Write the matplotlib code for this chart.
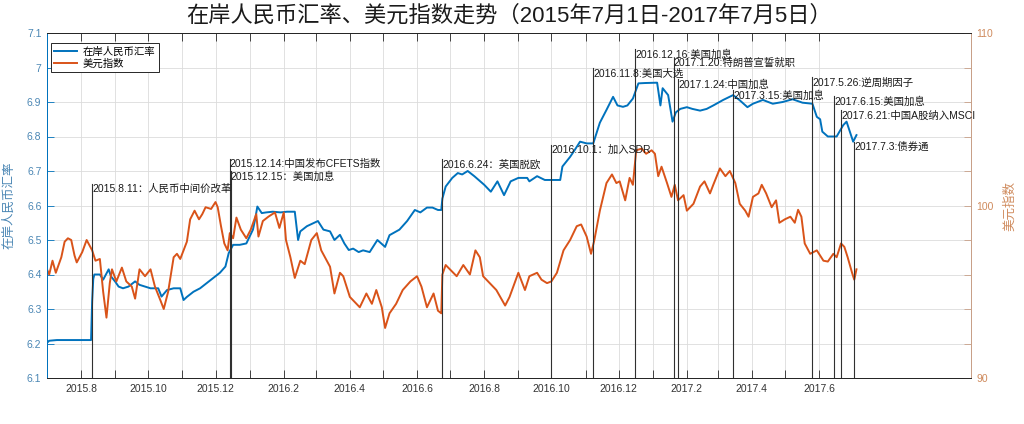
import matplotlib
matplotlib.use('Agg')
import matplotlib.pyplot as plt
import numpy as np
import pandas as pd

plt.rcParams['font.family'] = ['Liberation Sans', 'Noto Sans CJK SC']

# ---------------- data ----------------
cny_dates = [
    '2015-07-01', '2015-07-03', '2015-07-10', '2015-07-20', '2015-07-31', '2015-08-10',
    '2015-08-11', '2015-08-12', '2015-08-13', '2015-08-18', '2015-08-21', '2015-08-26',
    '2015-08-28', '2015-09-01', '2015-09-04', '2015-09-08', '2015-09-13', '2015-09-19',
    '2015-09-23', '2015-10-03', '2015-10-10', '2015-10-13', '2015-10-18', '2015-10-24',
    '2015-10-30', '2015-11-02', '2015-11-05', '2015-11-11', '2015-11-17', '2015-11-23',
    '2015-11-29', '2015-12-05', '2015-12-10', '2015-12-13', '2015-12-17', '2015-12-23',
    '2015-12-29', '2016-01-04', '2016-01-06', '2016-01-08', '2016-01-12', '2016-01-16',
    '2016-01-22', '2016-01-29', '2016-02-04', '2016-02-11', '2016-02-14', '2016-02-16',
    '2016-02-22', '2016-02-28', '2016-03-03', '2016-03-08', '2016-03-14', '2016-03-18',
    '2016-03-23', '2016-03-27', '2016-03-31', '2016-04-04', '2016-04-09', '2016-04-13',
    '2016-04-19', '2016-04-22', '2016-04-26', '2016-05-03', '2016-05-07', '2016-05-16',
    '2016-05-23', '2016-05-30', '2016-06-04', '2016-06-10', '2016-06-15', '2016-06-20',
    '2016-06-23', '2016-06-24', '2016-06-27', '2016-07-03', '2016-07-08', '2016-07-12',
    '2016-07-17', '2016-07-23', '2016-08-01', '2016-08-07', '2016-08-13', '2016-08-19',
    '2016-08-25', '2016-09-01', '2016-09-09', '2016-09-11', '2016-09-18', '2016-09-25',
    '2016-10-02', '2016-10-09', '2016-10-11', '2016-10-18', '2016-10-22', '2016-10-27',
    '2016-11-02', '2016-11-08', '2016-11-14', '2016-11-20', '2016-11-26', '2016-11-30',
    '2016-12-05', '2016-12-09', '2016-12-14', '2016-12-19', '2016-12-25', '2017-01-05',
    '2017-01-08', '2017-01-10', '2017-01-15', '2017-01-19', '2017-01-22', '2017-01-26',
    '2017-02-01', '2017-02-06', '2017-02-13', '2017-02-19', '2017-02-25', '2017-03-06',
    '2017-03-15', '2017-03-21', '2017-03-28', '2017-04-02', '2017-04-11', '2017-04-20',
    '2017-04-29', '2017-05-08', '2017-05-17', '2017-05-26', '2017-05-30', '2017-06-02',
    '2017-06-04', '2017-06-09', '2017-06-17', '2017-06-23', '2017-06-26', '2017-07-02',
    '2017-07-05']
cny_values = [
    6.202, 6.208, 6.210, 6.210, 6.210, 6.210,
    6.323, 6.387, 6.400, 6.400, 6.385, 6.415,
    6.395, 6.379, 6.365, 6.360, 6.365, 6.380,
    6.370, 6.360, 6.360, 6.336, 6.355, 6.360,
    6.360, 6.326, 6.335, 6.350, 6.360, 6.375,
    6.390, 6.405, 6.423, 6.462, 6.486, 6.486,
    6.490, 6.530, 6.560, 6.597, 6.578, 6.580,
    6.582, 6.580, 6.582, 6.582, 6.500, 6.525,
    6.540, 6.549, 6.555, 6.530, 6.525, 6.500,
    6.515, 6.490, 6.471, 6.475, 6.465, 6.470,
    6.465, 6.480, 6.500, 6.480, 6.514, 6.530,
    6.555, 6.587, 6.580, 6.594, 6.594, 6.587,
    6.587, 6.620, 6.655, 6.680, 6.694, 6.690,
    6.700, 6.685, 6.660, 6.640, 6.670, 6.630,
    6.670, 6.680, 6.680, 6.670, 6.685, 6.674,
    6.674, 6.674, 6.713, 6.741, 6.760, 6.785,
    6.780, 6.780, 6.840, 6.877, 6.915, 6.890,
    6.886, 6.890, 6.910, 6.954, 6.955, 6.956,
    6.890, 6.940, 6.920, 6.843, 6.870, 6.880,
    6.885, 6.880, 6.875, 6.880, 6.890, 6.906,
    6.920, 6.905, 6.885, 6.895, 6.906, 6.895,
    6.900, 6.908, 6.898, 6.895, 6.857, 6.850,
    6.814, 6.800, 6.800, 6.833, 6.843, 6.785,
    6.804]

dxy_dates = [
    '2015-07-01', '2015-07-03', '2015-07-06', '2015-07-09', '2015-07-14', '2015-07-17',
    '2015-07-20', '2015-07-23', '2015-07-26', '2015-07-28', '2015-08-02', '2015-08-06',
    '2015-08-11', '2015-08-14', '2015-08-18', '2015-08-21', '2015-08-24', '2015-08-27',
    '2015-08-29', '2015-09-02', '2015-09-07', '2015-09-11', '2015-09-16', '2015-09-19',
    '2015-09-23', '2015-09-28', '2015-10-03', '2015-10-07', '2015-10-12', '2015-10-15',
    '2015-10-19', '2015-10-24', '2015-10-27', '2015-10-30', '2015-11-05', '2015-11-08',
    '2015-11-12', '2015-11-16', '2015-11-19', '2015-11-22', '2015-11-27', '2015-12-01',
    '2015-12-03', '2015-12-06', '2015-12-09', '2015-12-12', '2015-12-14', '2015-12-17',
    '2015-12-20', '2015-12-24', '2015-12-29', '2016-01-02', '2016-01-07', '2016-01-09',
    '2016-01-13', '2016-01-18', '2016-01-24', '2016-01-28', '2016-02-01', '2016-02-03',
    '2016-02-07', '2016-02-11', '2016-02-16', '2016-02-20', '2016-02-26', '2016-03-02',
    '2016-03-06', '2016-03-11', '2016-03-14', '2016-03-18', '2016-03-23', '2016-03-26',
    '2016-04-01', '2016-04-10', '2016-04-16', '2016-04-21', '2016-04-25', '2016-04-30',
    '2016-05-03', '2016-05-07', '2016-05-13', '2016-05-19', '2016-05-26', '2016-06-01',
    '2016-06-05', '2016-06-10', '2016-06-16', '2016-06-20', '2016-06-23', '2016-06-24',
    '2016-06-27', '2016-07-03', '2016-07-07', '2016-07-13', '2016-07-19', '2016-07-24',
    '2016-07-28', '2016-07-31', '2016-08-06', '2016-08-12', '2016-08-20', '2016-08-24',
    '2016-09-01', '2016-09-07', '2016-09-11', '2016-09-18', '2016-09-22', '2016-09-27',
    '2016-10-01', '2016-10-06', '2016-10-12', '2016-10-18', '2016-10-24', '2016-10-28',
    '2016-11-02', '2016-11-06', '2016-11-09', '2016-11-14', '2016-11-20', '2016-11-25',
    '2016-11-29', '2016-12-02', '2016-12-07', '2016-12-11', '2016-12-14', '2016-12-17',
    '2016-12-22', '2016-12-26', '2016-12-31', '2017-01-03', '2017-01-06', '2017-01-09',
    '2017-01-14', '2017-01-18', '2017-01-21', '2017-01-24', '2017-01-29', '2017-02-01',
    '2017-02-07', '2017-02-13', '2017-02-17', '2017-02-22', '2017-02-25', '2017-03-03',
    '2017-03-08', '2017-03-12', '2017-03-17', '2017-03-21', '2017-03-26', '2017-03-29',
    '2017-04-02', '2017-04-07', '2017-04-10', '2017-04-14', '2017-04-19', '2017-04-23',
    '2017-04-26', '2017-05-01', '2017-05-06', '2017-05-10', '2017-05-13', '2017-05-16',
    '2017-05-19', '2017-05-24', '2017-05-30', '2017-06-05', '2017-06-09', '2017-06-14',
    '2017-06-17', '2017-06-21', '2017-06-24', '2017-06-27', '2017-07-01', '2017-07-03',
    '2017-07-05']
dxy_values = [
    96.3, 96.0, 96.8, 96.1, 97.0, 97.9,
    98.1, 98.0, 97.1, 96.7, 97.3, 98.0,
    97.4, 96.8, 96.9, 95.0, 93.5, 95.5,
    96.3, 95.6, 96.4, 95.6, 95.3, 94.6,
    96.3, 95.9, 96.3, 95.3, 94.5, 94.0,
    95.0, 97.0, 97.2, 96.9, 97.9, 99.2,
    99.7, 99.2, 99.5, 99.9, 99.8, 100.2,
    99.9, 98.8, 97.8, 97.4, 98.4, 98.1,
    99.3, 98.6, 98.1, 98.6, 99.5, 98.2,
    99.1, 99.35, 99.6, 98.7, 99.6, 98.0,
    97.0, 95.8, 96.8, 96.6, 98.0, 98.4,
    97.4, 96.8, 96.45, 94.9, 96.1, 95.9,
    94.7, 94.1, 94.9, 94.3, 95.1, 94.1,
    92.9, 93.75, 94.3, 95.1, 95.6, 95.9,
    95.3, 94.1, 94.9, 93.9, 93.75, 96.0,
    96.55, 96.16, 95.9, 96.55, 96.0, 97.4,
    97.0, 95.9, 95.5, 95.1, 94.2, 94.7,
    96.1, 95.1, 95.9, 96.1, 95.7, 95.5,
    95.6, 96.1, 97.4, 98.0, 98.8, 98.9,
    98.2, 97.2, 98.0, 99.7, 101.3, 101.8,
    101.3, 101.4, 100.3, 101.6, 101.2, 103.2,
    103.3, 103.0, 103.2, 103.0, 101.7, 102.25,
    101.3, 100.5, 101.2, 100.3, 100.6, 99.7,
    100.1, 101.1, 101.4, 100.7, 101.2, 102.15,
    101.7, 102.0, 101.3, 100.1, 99.7, 99.35,
    100.5, 100.7, 101.2, 100.7, 99.9, 100.3,
    99.0, 99.2, 99.35, 99.0, 99.75, 99.35,
    97.8, 97.2, 97.4, 96.8, 96.75, 97.2,
    97.0, 97.8, 97.6, 97.0, 96.1, 95.7,
    96.3]

event_dates = ['2015-08-11', '2015-12-14', '2015-12-15', '2016-06-24', '2016-10-01',
               '2016-11-08', '2016-12-16', '2017-01-20', '2017-01-24', '2017-03-15',
               '2017-05-26', '2017-06-15', '2017-06-21', '2017-07-03']
event_labels = ['2015.8.11：人民币中间价改革', '2015.12.14:中国发布CFETS指数',
                '2015.12.15：美国加息', '2016.6.24：英国脱欧', '2016.10.1：加入SDR',
                '2016.11.8:美国大选', '2016.12.16:美国加息', '2017.1.20:特朗普宣誓就职',
                '2017.1.24:中国加息', '2017.3.15:美国加息', '2017.5.26:逆周期因子',
                '2017.6.15:美国加息', '2017.6.21:中国A股纳入MSCI', '2017.7.3:债券通']
event_levels = [6.662, 6.734, 6.700, 6.734, 6.775, 6.998, 7.053, 7.027, 6.966,
                6.934, 6.972, 6.917, 6.876, 6.784]

title_text = '在岸人民币汇率、美元指数走势（2015年7月1日-2017年7月5日）'
cny_label = '在岸人民币汇率'
dxy_label = '美元指数'

# ---------------- styling ----------------
BLUE = '#0072BD'
ORANGE = '#D95319'
BLUE_TXT = '#4a86b4'
ORANGE_TXT = '#cf8a5c'
DARK = '#262626'

fig = plt.figure(figsize=(10.24, 4.24), dpi=100)
ax1 = fig.add_axes([47 / 1024, 46 / 424, 924 / 1024, 345 / 424])
ax2 = ax1.twinx()

cd = pd.to_datetime(cny_dates)
dd = pd.to_datetime(dxy_dates)
l1, = ax1.plot(cd, cny_values, color=BLUE, lw=1.4, label=cny_label)
l2, = ax2.plot(dd, dxy_values, color=ORANGE, lw=1.4, label=dxy_label)

xmin, xmax = pd.Timestamp('2015-07-01'), pd.Timestamp('2017-10-17')
ax1.set_xlim(xmin, xmax)
ax1.set_ylim(6.1, 7.1)
ax2.set_ylim(90, 110)

# x ticks: monthly, labelled every other month
months = pd.date_range('2015-07-01', '2017-06-01', freq='MS')
ax1.set_xticks(months)
ax1.set_xticklabels([f'{m.year}.{m.month}' if m.month % 2 == 0 else '' for m in months])
ax1.tick_params(axis='x', direction='in', length=6, width=0.6, top=True,
                labelsize=7.5, labelcolor='#333333', color=DARK, pad=4.5)

yt = np.round(np.arange(6.1, 7.1001, 0.1), 1)
ax1.set_yticks(yt)
ax1.set_yticklabels([f'{v:g}' for v in yt])
ax1.tick_params(axis='y', direction='in', length=5, width=0.6, labelsize=7.5,
                labelcolor=BLUE_TXT, color=BLUE, pad=4)

yt2 = np.arange(90, 111, 2)
ax2.set_yticks(yt2)
ax2.set_yticklabels([str(v) if v % 10 == 0 else '' for v in yt2])
ax2.tick_params(axis='y', direction='in', length=5, width=0.6, labelsize=7.5,
                labelcolor=ORANGE_TXT, color='#c8a088', pad=4)

for ax in (ax1, ax2):
    for s in ('top', 'bottom'):
        ax.spines[s].set_color(DARK)
        ax.spines[s].set_linewidth(0.7)
    ax.spines['left'].set_color(BLUE)
    ax.spines['right'].set_color('#c8a088')
    ax.spines['left'].set_linewidth(0.7)
    ax.spines['right'].set_linewidth(0.7)

ax1.grid(True, color='#dcdcdc', lw=0.6)
ax1.set_axisbelow(True)

ax1.set_ylabel(cny_label, color=BLUE_TXT, fontsize=9)
ax1.yaxis.set_label_coords(-0.034, 0.5)
ax2.set_ylabel(dxy_label, color=ORANGE_TXT, fontsize=9, rotation=90)
ax2.yaxis.set_label_coords(1.036, 0.5)

# events
for d, lab, lv in zip(event_dates, event_labels, event_levels):
    t = pd.Timestamp(d)
    ax2.plot([t, t], [6.1, lv], transform=ax1.transData, color='#303030', lw=0.8, zorder=3)
    ax2.text(t, lv, lab, transform=ax1.transData, ha='left', va='top', fontsize=7.5,
             color='#1a1a1a', zorder=4)

ax2.set_ylim(90, 110)
ax1.set_xlim(xmin, xmax)

leg = ax2.legend([l1, l2], [cny_label, dxy_label], loc='upper left',
                 bbox_to_anchor=(0.004, 0.972), bbox_transform=ax1.transAxes,
                 borderaxespad=0, fontsize=7.5, fancybox=False, framealpha=1,
                 edgecolor=DARK, handlelength=2.2, handletextpad=0.5,
                 borderpad=0.35, labelspacing=0.2)
leg.get_frame().set_linewidth(0.7)

fig.text(0.497, 0.962, title_text, ha='center', va='center', fontsize=16, color='#1a1a1a')

fig.savefig('out.png', dpi=100)
